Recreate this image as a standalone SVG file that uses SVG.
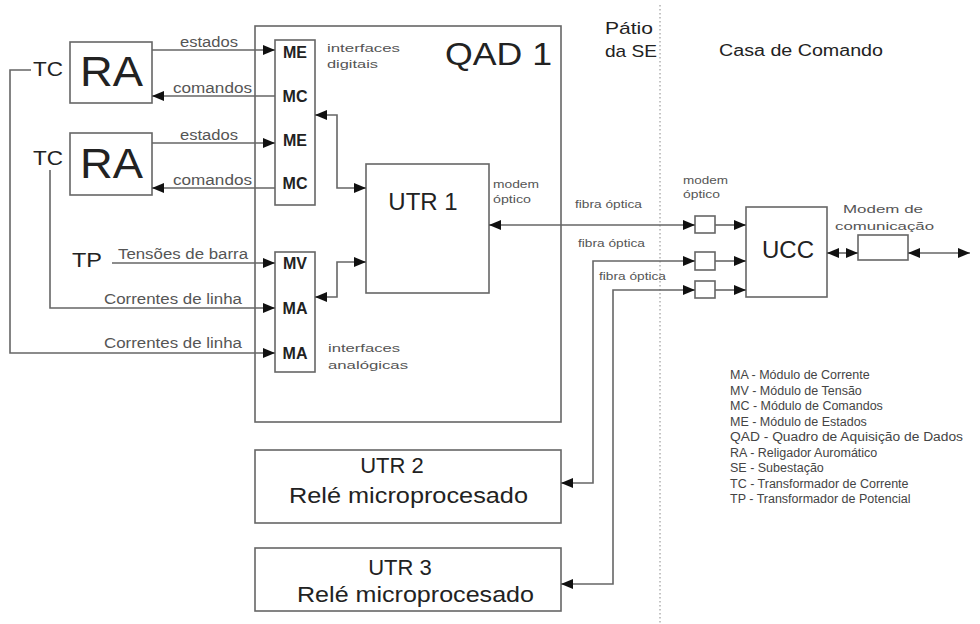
<svg xmlns="http://www.w3.org/2000/svg" width="980" height="624" viewBox="0 0 980 624">
<style>
.box{fill:#fff;stroke:#666;stroke-width:1.6}
.ln{fill:none;stroke:#666;stroke-width:1.6}
.big{font-family:"Liberation Sans",Arial,sans-serif;fill:#222}
.lbl{font-family:"Liberation Sans",Arial,sans-serif;fill:#555;font-size:14px}
.sm{font-family:"Liberation Sans",Arial,sans-serif;fill:#555;font-size:11.5px}
.mod{font-family:"Liberation Sans",Arial,sans-serif;fill:#222;font-size:16px;font-weight:bold;text-anchor:middle}
.leg{font-family:"Liberation Sans",Arial,sans-serif;fill:#444;font-size:12.5px}
</style>
<defs>
<marker id="ah" viewBox="0 0 12 10" markerWidth="12" markerHeight="10" refX="12" refY="5" orient="auto-start-reverse" markerUnits="userSpaceOnUse">
<path d="M0,0 L12,5 L0,10 z" fill="#111"/>
</marker>
</defs>
<rect width="980" height="624" fill="#fff"/>

<g id="divider">
<line x1="660" y1="5" x2="660" y2="624" stroke="#888" stroke-width="1" stroke-dasharray="1.5,2.5"/>
<text class="big" x="605" y="34" font-size="17" textLength="48" lengthAdjust="spacingAndGlyphs">Pátio</text>
<text class="big" x="605" y="57" font-size="17" textLength="52" lengthAdjust="spacingAndGlyphs">da SE</text>
<text class="big" x="719" y="56" font-size="16" textLength="164" lengthAdjust="spacingAndGlyphs">Casa de Comando</text>
</g>

<g id="qad1">
<rect class="box" x="255" y="26" width="306" height="396"/>
<text class="big" x="445" y="65" font-size="32" textLength="107" lengthAdjust="spacingAndGlyphs">QAD 1</text>
<text class="sm" x="327" y="52" font-size="13" textLength="73" lengthAdjust="spacingAndGlyphs">interfaces</text>
<text class="sm" x="327" y="68" font-size="13" textLength="51" lengthAdjust="spacingAndGlyphs">digitais</text>
<text class="sm" x="328" y="352" font-size="13" textLength="72" lengthAdjust="spacingAndGlyphs">interfaces</text>
<text class="sm" x="328" y="369" font-size="13" textLength="80" lengthAdjust="spacingAndGlyphs">analógicas</text>
</g>

<g id="ra1">
<rect class="box" x="70" y="42" width="82" height="61"/>
<text class="big" x="80" y="86" font-size="42" textLength="63" lengthAdjust="spacingAndGlyphs">RA</text>
</g>
<g id="ra2">
<rect class="box" x="70" y="133" width="82" height="62"/>
<text class="big" x="80" y="178" font-size="42" textLength="63" lengthAdjust="spacingAndGlyphs">RA</text>
</g>
<g id="tc1"><text class="big" x="33" y="76" font-size="20" textLength="30" lengthAdjust="spacingAndGlyphs">TC</text></g>
<g id="tc2"><text class="big" x="33" y="165" font-size="20" textLength="30" lengthAdjust="spacingAndGlyphs">TC</text></g>
<g id="tp"><text class="big" x="72" y="267" font-size="21" textLength="30" lengthAdjust="spacingAndGlyphs">TP</text></g>

<g id="dig-if">
<rect class="box" x="275" y="40" width="40" height="165"/>
<text class="mod" x="295" y="58">ME</text>
<text class="mod" x="295" y="102">MC</text>
<text class="mod" x="295" y="146">ME</text>
<text class="mod" x="295" y="189">MC</text>
</g>
<g id="ana-if">
<rect class="box" x="275" y="252" width="40" height="120"/>
<text class="mod" x="295" y="269">MV</text>
<text class="mod" x="295" y="314">MA</text>
<text class="mod" x="295" y="359">MA</text>
</g>

<g id="utr1">
<rect class="box" x="366" y="164" width="123" height="129"/>
<text class="big" x="423" y="210" font-size="24" text-anchor="middle">UTR 1</text>
<text class="sm" x="493" y="188" textLength="46" lengthAdjust="spacingAndGlyphs">modem</text>
<text class="sm" x="493" y="203" textLength="38" lengthAdjust="spacingAndGlyphs">óptico</text>
</g>

<g id="utr2">
<rect class="box" x="255" y="450" width="306" height="73"/>
<text class="big" x="392" y="473" font-size="22" text-anchor="middle">UTR 2</text>
<text class="big" x="289" y="503" font-size="22" textLength="239" lengthAdjust="spacingAndGlyphs">Relé microprocesado</text>
</g>
<g id="utr3">
<rect class="box" x="255" y="548" width="306" height="63"/>
<text class="big" x="400" y="575" font-size="22" text-anchor="middle">UTR 3</text>
<text class="big" x="297" y="602" font-size="22" textLength="237" lengthAdjust="spacingAndGlyphs">Relé microprocesado</text>
</g>

<g id="modems">
<text class="sm" x="683" y="184" textLength="45" lengthAdjust="spacingAndGlyphs">modem</text>
<text class="sm" x="683" y="198" textLength="37" lengthAdjust="spacingAndGlyphs">óptico</text>
<rect class="box" x="695" y="216" width="20" height="17"/>
<rect class="box" x="695" y="252" width="20" height="18"/>
<rect class="box" x="695" y="281" width="20" height="17"/>
</g>

<g id="ucc">
<rect class="box" x="746" y="207" width="81" height="90"/>
<text class="big" x="788" y="258" font-size="24" text-anchor="middle">UCC</text>
</g>

<g id="modem-com">
<rect class="box" x="858" y="235" width="50" height="25"/>
<text class="sm" x="843" y="213" font-size="14" textLength="80" lengthAdjust="spacingAndGlyphs">Modem de</text>
<text class="sm" x="835" y="230" font-size="14" textLength="99" lengthAdjust="spacingAndGlyphs">comunicação</text>
</g>

<g id="connectors">
<path class="ln" d="M152,50 H275" marker-end="url(#ah)"/>
<path class="ln" d="M275,96 H152" marker-end="url(#ah)"/>
<path class="ln" d="M152,143 H275" marker-end="url(#ah)"/>
<path class="ln" d="M275,188 H152" marker-end="url(#ah)"/>
<path class="ln" d="M31,70 H10 V353 H275" marker-end="url(#ah)"/>
<path class="ln" d="M50,170 V308 H275" marker-end="url(#ah)"/>
<path class="ln" d="M112,263 H275" marker-end="url(#ah)"/>
<path class="ln" d="M315,115 H337 V188 H366" marker-start="url(#ah)" marker-end="url(#ah)"/>
<path class="ln" d="M315,297 H337 V262 H366" marker-start="url(#ah)" marker-end="url(#ah)"/>
<path class="ln" d="M489,225 H695" marker-start="url(#ah)" marker-end="url(#ah)"/>
<path class="ln" d="M561,483 H593 V261 H695" marker-start="url(#ah)" marker-end="url(#ah)"/>
<path class="ln" d="M561,584 H613 V290 H695" marker-start="url(#ah)" marker-end="url(#ah)"/>
<path class="ln" d="M715,225 H746" marker-end="url(#ah)"/>
<path class="ln" d="M715,261 H746" marker-end="url(#ah)"/>
<path class="ln" d="M715,290 H746" marker-end="url(#ah)"/>
<path class="ln" d="M827,253 H858" marker-start="url(#ah)" marker-end="url(#ah)"/>
<path class="ln" d="M908,253 H970" marker-start="url(#ah)" marker-end="url(#ah)"/>
<text class="lbl" x="180" y="47" textLength="58" lengthAdjust="spacingAndGlyphs">estados</text>
<text class="lbl" x="173" y="93" textLength="79" lengthAdjust="spacingAndGlyphs">comandos</text>
<text class="lbl" x="180" y="140" textLength="58" lengthAdjust="spacingAndGlyphs">estados</text>
<text class="lbl" x="173" y="185" textLength="79" lengthAdjust="spacingAndGlyphs">comandos</text>
<text class="lbl" x="118" y="259" textLength="130" lengthAdjust="spacingAndGlyphs">Tensões de barra</text>
<text class="lbl" x="104" y="304" textLength="138" lengthAdjust="spacingAndGlyphs">Correntes de linha</text>
<text class="lbl" x="104" y="348" textLength="138" lengthAdjust="spacingAndGlyphs">Correntes de linha</text>
<text class="sm" x="575" y="208" textLength="67" lengthAdjust="spacingAndGlyphs">fibra óptica</text>
<text class="sm" x="578" y="247" textLength="67" lengthAdjust="spacingAndGlyphs">fibra óptica</text>
<text class="sm" x="599" y="280" textLength="67" lengthAdjust="spacingAndGlyphs">fibra óptica</text>
</g>

<g id="legend">
<text class="leg" x="730" y="379">MA - Módulo de Corrente</text>
<text class="leg" x="730" y="394.5">MV - Módulo de Tensão</text>
<text class="leg" x="730" y="410">MC - Módulo de Comandos</text>
<text class="leg" x="730" y="425.5">ME - Módulo de Estados</text>
<text class="leg" x="730" y="441" textLength="233" lengthAdjust="spacingAndGlyphs">QAD - Quadro de Aquisição de Dados</text>
<text class="leg" x="730" y="456.5">RA - Religador Auromático</text>
<text class="leg" x="730" y="472">SE - Subestação</text>
<text class="leg" x="730" y="487.5">TC - Transformador de Corrente</text>
<text class="leg" x="730" y="503">TP - Transformador de Potencial</text>
</g>
</svg>
